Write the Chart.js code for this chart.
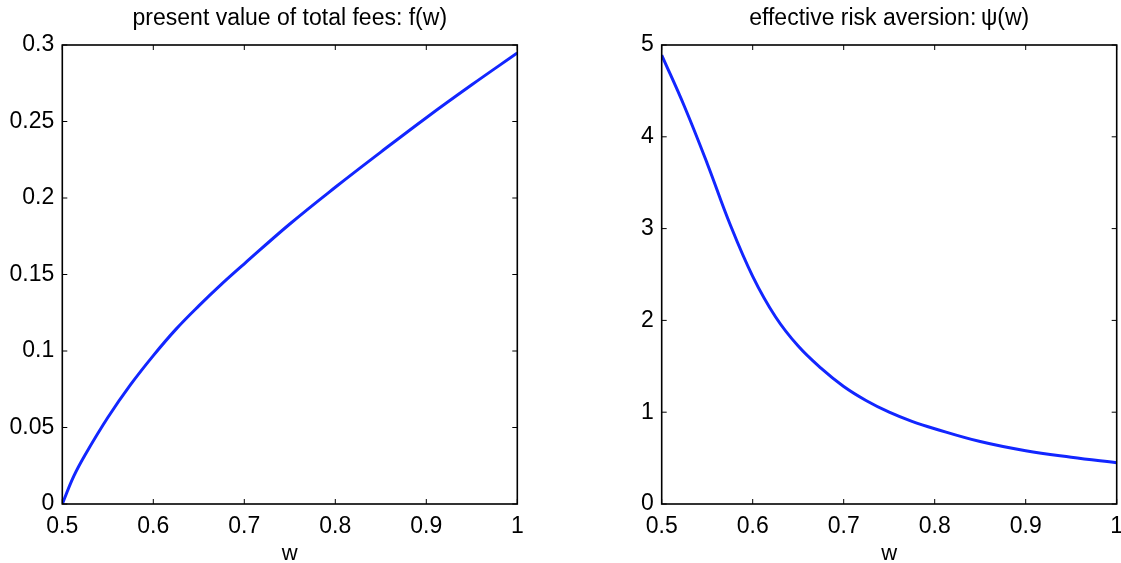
<!DOCTYPE html>
<html>
<head>
<meta charset="utf-8">
<script src="https://cdn.jsdelivr.net/npm/chart.js@4.4.1/dist/chart.umd.min.js"></script>
<style>
  html, body { margin: 0; padding: 0; background: #fff; overflow: hidden; width: 1121px; height: 563px; }
  .wrap { position: absolute; top: 0; }
  canvas { display: block; }
</style>
</head>
<body>
<div class="wrap" style="left:0px"><canvas id="feeChart" width="560" height="575"></canvas></div>
<div class="wrap" style="left:560px"><canvas id="psiChart" width="580" height="575"></canvas></div>
<script>
// ---- data ----
const feeW      = [0.5, 0.5125, 0.525, 0.55, 0.575, 0.6, 0.625, 0.65, 0.675, 0.7, 0.75, 0.8, 0.85, 0.9, 0.95, 1.0];
const feeValues = [0, 0.018, 0.032, 0.0565, 0.078, 0.097, 0.1143, 0.1295, 0.1437, 0.157, 0.183, 0.207, 0.230, 0.2525, 0.274, 0.2948];

const psiW      = [0.5, 0.525, 0.55, 0.575, 0.6, 0.625, 0.65, 0.675, 0.7, 0.725, 0.75, 0.775, 0.8, 0.85, 0.9, 0.95, 1.0];
const psiValues = [4.89, 4.33, 3.71, 3.05, 2.48, 2.04, 1.72, 1.48, 1.28, 1.125, 1.00, 0.90, 0.82, 0.68, 0.58, 0.51, 0.45];

const wTicks   = [0.5, 0.6, 0.7, 0.8, 0.9, 1];
const feeTicks = [0, 0.05, 0.1, 0.15, 0.2, 0.25, 0.3];
const psiTicks = [0, 1, 2, 3, 4, 5];

const feeTitle = 'present value of total fees: f(w)';
const psiTitle = 'effective risk aversion:\u2009\u03C8(w)';
const xLabel = 'w';

// ---- styling ----
const FONT = '"Liberation Sans", Arial, Helvetica, sans-serif';
const LINE_COLOR = 'rgb(18, 38, 255)';

const boxTicks = {
  id: 'boxTicks',
  afterDraw(chart) {
    const { ctx, chartArea: a, scales: { x, y } } = chart;
    const L = 5;
    ctx.save();
    ctx.strokeStyle = '#000';
    ctx.lineWidth = 1;
    ctx.beginPath();
    x.ticks.forEach(t => {
      const px = x.getPixelForValue(t.value);
      ctx.moveTo(px, a.bottom); ctx.lineTo(px, a.bottom - L);
      ctx.moveTo(px, a.top);    ctx.lineTo(px, a.top + L);
    });
    y.ticks.forEach(t => {
      const py = y.getPixelForValue(t.value);
      ctx.moveTo(a.left, py);  ctx.lineTo(a.left + L, py);
      ctx.moveTo(a.right, py); ctx.lineTo(a.right - L, py);
    });
    ctx.stroke();
    ctx.lineWidth = 1.6;
    ctx.strokeRect(a.left, a.top, a.right - a.left, a.bottom - a.top);
    ctx.restore();
  }
};

function fmt(v) { return String(+Number(v).toFixed(2)); }

function makeChart(id, xs, ys, yTicks, title, padLeft, padRight) {
  const pts = xs.map((x, i) => ({ x: x, y: ys[i] }));
  return new Chart(document.getElementById(id), {
    type: 'line',
    data: {
      datasets: [{
        data: pts,
        borderColor: LINE_COLOR,
        borderWidth: 3,
        pointRadius: 0,
        fill: false,
        tension: 0.4
      }]
    },
    options: {
      responsive: false,
      animation: false,
      devicePixelRatio: 1,
      layout: { padding: { left: padLeft, right: padRight, top: 0, bottom: 0 } },
      plugins: {
        legend: { display: false },
        tooltip: { enabled: false },
        title: {
          display: true,
          text: title,
          fullSize: false,
          color: '#000',
          font: { family: FONT, size: 23, weight: 'normal' },
          padding: { top: 5, bottom: 12.4 }
        }
      },
      scales: {
        x: {
          type: 'linear',
          min: wTicks[0],
          max: wTicks[wTicks.length - 1],
          afterBuildTicks: s => { s.ticks = wTicks.map(v => ({ value: v })); },
          afterFit: s => { s.height = 71; },
          grid: { display: false, drawTicks: false },
          border: { display: false },
          ticks: {
            color: '#000', padding: 9, maxRotation: 0,
            font: { family: FONT, size: 23 },
            callback: v => fmt(v)
          },
          title: {
            display: true, text: xLabel, color: '#000',
            font: { family: FONT, size: 22 },
            padding: { top: 0, bottom: 8 }
          }
        },
        y: {
          type: 'linear',
          min: yTicks[0],
          max: yTicks[yTicks.length - 1],
          afterBuildTicks: s => { s.ticks = yTicks.map(v => ({ value: v })); },
          afterFit: s => { s.width = 62; },
          grid: { display: false, drawTicks: false },
          border: { display: false },
          ticks: {
            color: '#000', padding: 8,
            font: { family: FONT, size: 23 },
            callback: v => fmt(v)
          }
        }
      }
    },
    plugins: [boxTicks]
  });
}

makeChart('feeChart', feeW, feeValues, feeTicks, feeTitle, 0.3, 42.7);
makeChart('psiChart', psiW, psiValues, psiTicks, psiTitle, 39.7, 23.3);
</script>
</body>
</html>
